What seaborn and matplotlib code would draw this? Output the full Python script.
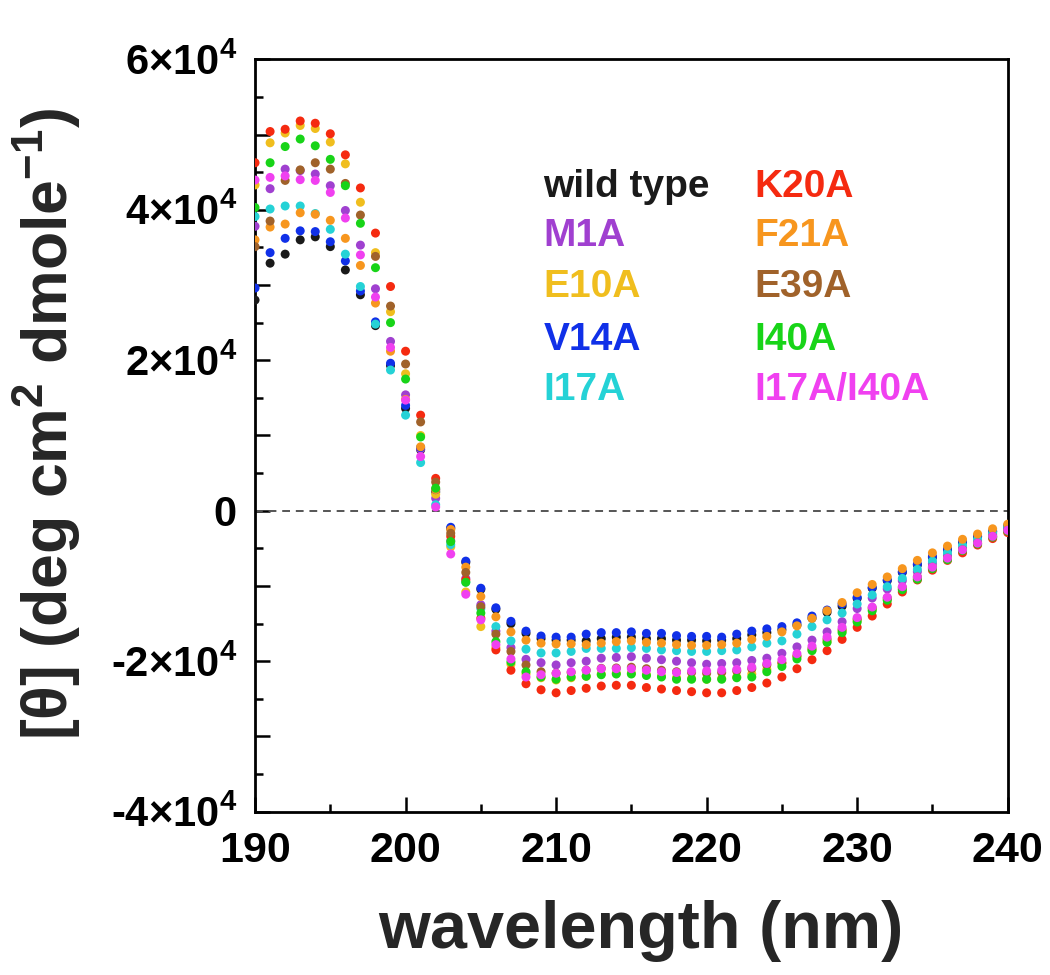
import numpy as np
import pandas as pd
import matplotlib
matplotlib.use("Agg")
import matplotlib.pyplot as plt
import seaborn as sns
from matplotlib.ticker import FixedLocator, MultipleLocator, FuncFormatter

# ============ Data (mean residue ellipticity, deg cm2 dmole-1) ============
wavelength = list(range(190, 241))

wild_type = [28000, 32900, 34100, 36000, 36400, 35100, 32000, 28700, 24600, 19300,
             13600, 8100, 2500, -2350, -6860, -10450, -13100, -15000, -16300, -17000,
             -17200, -17200, -17300, -17000, -16800, -16800, -17000, -17000, -17200, -17200,
             -17300, -17200, -17000, -16500, -16200, -15800, -15200, -14300, -13500, -12700,
             -11650, -10300, -9300, -8200, -7200, -6200, -5200, -4200, -3450, -2800, -2100]
m1a = [37800, 42800, 45400, 45200, 44750, 43200, 39900, 35300, 29500, 22500,
       15400, 8200, 1650, -4000, -9000, -12500, -16000, -18200, -19750, -20200,
       -20500, -20200, -20000, -19600, -19500, -19400, -19600, -19800, -20000, -20200,
       -20400, -20300, -20200, -19900, -19600, -18950, -18100, -17200, -16100, -14750,
       -13000, -11600, -10400, -9300, -8100, -7000, -5900, -4900, -4000, -3200, -2400]
e10a = [43300, 48900, 50200, 51200, 50800, 49000, 46100, 41000, 34300, 26450,
        18200, 10000, 2200, -4800, -10800, -15400, -18200, -20400, -21700, -22200,
        -22500, -22200, -22000, -21700, -21600, -21600, -21800, -22000, -22200, -22300,
        -22400, -22300, -22100, -21700, -21100, -20300, -19400, -18500, -17400, -16000,
        -14600, -13100, -11800, -10400, -9000, -7700, -6400, -5300, -4400, -3500, -2700]
v14a = [29600, 34300, 36200, 37200, 37100, 35750, 33200, 29200, 25100, 19600,
        14000, 8400, 2800, -2200, -6700, -10300, -12900, -14700, -16000, -16650,
        -16800, -16800, -16400, -16200, -16200, -16100, -16300, -16300, -16600, -16700,
        -16700, -16800, -16400, -16000, -15700, -15400, -14900, -14000, -13200, -12400,
        -11500, -10200, -9200, -8100, -7100, -6100, -5100, -4100, -3400, -2700, -2000]
i17a = [39100, 40100, 40500, 40500, 39500, 37400, 34100, 29800, 24800, 18700,
        12700, 6400, 800, -4500, -9500, -13000, -15400, -17300, -18400, -18900,
        -18900, -18700, -18300, -18300, -18300, -18200, -18300, -18500, -18600, -18700,
        -18700, -18600, -18500, -18100, -17600, -17300, -16400, -15400, -14500, -13600,
        -12400, -11200, -10100, -9000, -7800, -6700, -5600, -4600, -3800, -3000, -2200]
k20a = [46250, 50400, 50700, 51800, 51500, 50100, 47300, 42900, 36900, 29800,
        21200, 12700, 4300, -3400, -9200, -14300, -18500, -21200, -23000, -23800,
        -24200, -23900, -23600, -23300, -23200, -23200, -23500, -23700, -23900, -24050,
        -24200, -24200, -23900, -23500, -22900, -22100, -21000, -19800, -18600, -17100,
        -15500, -14000, -12400, -10800, -9200, -7900, -6600, -5600, -4560, -3700, -2900]
f21a = [36000, 37700, 38100, 39600, 39400, 38600, 36200, 32600, 27600, 21200,
        14800, 8500, 2800, -2500, -7500, -11400, -14100, -16100, -17200, -17600,
        -17700, -17700, -17800, -17600, -17400, -17300, -17500, -17600, -17800, -17900,
        -17900, -17800, -17600, -17100, -16700, -16100, -15300, -14300, -13300, -12200,
        -10900, -9800, -8800, -7700, -6600, -5600, -4700, -3800, -3100, -2400, -1800]
e39a = [35100, 38500, 43900, 45300, 46250, 45400, 43500, 39300, 33800, 27200,
        19500, 11800, 3800, -3000, -8200, -12760, -16400, -18700, -20500, -21400,
        -21600, -21500, -21200, -20950, -20900, -20800, -21000, -21200, -21400, -21500,
        -21600, -21500, -21300, -21000, -20500, -20200, -19300, -18300, -17100, -15800,
        -14400, -12900, -11600, -10200, -8800, -7500, -6300, -5200, -4300, -3400, -2600]
i40a = [40300, 46250, 48400, 49400, 48500, 46700, 43200, 38200, 32300, 25000,
        17500, 9800, 3000, -4100, -9500, -13600, -17400, -20100, -21400, -22100,
        -22400, -22100, -22000, -21800, -21700, -21700, -21900, -22100, -22400, -22400,
        -22400, -22400, -22200, -22100, -21400, -20700, -19700, -18600, -17500, -16200,
        -14800, -13300, -11900, -10500, -9100, -7700, -6500, -5300, -4400, -3500, -2700]
i17a_i40a = [43950, 44300, 44500, 44000, 43900, 42300, 38900, 34000, 28400, 21700,
             14700, 7200, 500, -5750, -11100, -14500, -17800, -19700, -22100, -21800,
             -21600, -21400, -21200, -21000, -21000, -21000, -21200, -21400, -21500, -21300,
             -21300, -21200, -21100, -20800, -20300, -19800, -19000, -18000, -16800, -15500,
             -14200, -12800, -11500, -10100, -8800, -7500, -6300, -5200, -4300, -3400, -2600]

variants = ["wild type", "M1A", "E10A", "V14A", "I17A",
            "K20A", "F21A", "E39A", "I40A", "I17A/I40A"]
series = [wild_type, m1a, e10a, v14a, i17a, k20a, f21a, e39a, i40a, i17a_i40a]
colors = ["#1a1a1a", "#a040d0", "#f0be1e", "#1030e8", "#25d2d6",
          "#f52a10", "#f7961e", "#a0622a", "#18d418", "#f040f0"]

# ============ Long table for seaborn ============
df = pd.concat(
    [pd.DataFrame({"wavelength": wavelength, "theta": vals, "variant": name})
     for name, vals in zip(variants, series)],
    ignore_index=True,
)
palette = dict(zip(variants, colors))
draw_order = ["I17A/I40A", "I40A", "E39A", "E10A", "K20A",
              "F21A", "M1A", "I17A", "V14A", "wild type"]

# ============ Style ============
sns.set_style("white")
plt.rcParams["font.family"] = ["Liberation Sans", "DejaVu Sans"]
plt.rcParams["font.weight"] = "bold"
plt.rcParams["mathtext.fontset"] = "custom"
plt.rcParams["mathtext.rm"] = "Liberation Sans:bold"
plt.rcParams["mathtext.it"] = "Liberation Sans:bold"
plt.rcParams["mathtext.bf"] = "Liberation Sans:bold"

fig = plt.figure(figsize=(10.5, 9.75), dpi=100)
ax = fig.add_axes([0.2429, 0.1675, 0.7168, 0.7717])

ax.axhline(0, color="#555555", lw=1.4, ls=(0, (4, 3)), zorder=1)

sns.scatterplot(data=df, x="wavelength", y="theta", hue="variant",
                hue_order=draw_order, palette=palette, s=42, linewidth=0,
                legend=False, ax=ax, zorder=3)

ax.set_xlim(190, 240)
ax.set_ylim(-40000, 60000)

# ticks
ax.xaxis.set_major_locator(MultipleLocator(10))
ax.xaxis.set_minor_locator(MultipleLocator(5))
ax.yaxis.set_major_locator(FixedLocator(np.arange(-40000, 60001, 10000)))
ax.yaxis.set_minor_locator(MultipleLocator(5000))


def ylab(v, pos):
    k = int(round(v / 10000))
    if k % 2:
        return ""
    if k == 0:
        return "0"
    sign = "-" if k < 0 else ""
    return sign + r"$%d{\times}10^{4}$" % abs(k)


ax.yaxis.set_major_formatter(FuncFormatter(ylab))
ax.tick_params(which="both", direction="in", left=True, bottom=True,
               top=False, right=False, width=1.8, colors="black")
ax.tick_params(which="major", length=10.5)
ax.tick_params(which="minor", length=6)
ax.tick_params(axis="y", which="major", labelsize=30, pad=13)
ax.tick_params(axis="x", which="major", labelsize=31, pad=14)
for lab in ax.get_xticklabels() + ax.get_yticklabels():
    lab.set_fontweight("bold")

for sp in ax.spines.values():
    sp.set_linewidth(2.0)
    sp.set_color("black")

ax.set_xlabel("wavelength (nm)", fontsize=48, fontweight="bold")
ax.xaxis.set_label_coords(0.513, -0.118)
ax.set_ylabel(r"[θ] (deg cm$^{2}$ dmole$^{-1}$)", fontsize=45, fontweight="bold")
ax.yaxis.set_label_coords(-0.228, 0.515)

# colored text legend
col_x = [0.383, 0.664]
row_y = [0.830, 0.765, 0.697, 0.627, 0.560]
for i, (name, c) in enumerate(zip(variants, colors)):
    ax.text(col_x[i // 5], row_y[i % 5], name, color=c, fontsize=28,
            fontweight="bold", ha="left", va="center", transform=ax.transAxes)

fig.savefig("out.png", dpi=100)
